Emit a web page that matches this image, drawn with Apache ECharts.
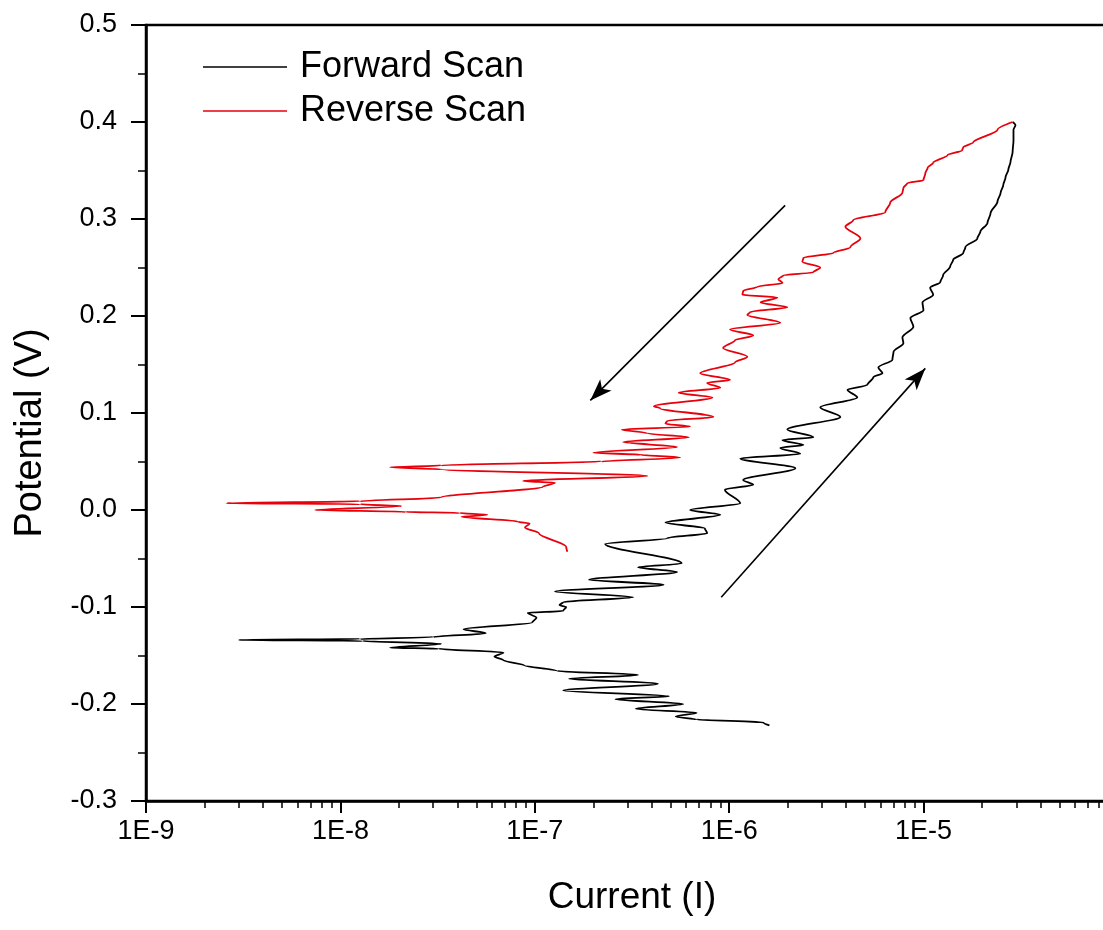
<!DOCTYPE html>
<html>
<head>
<meta charset="utf-8">
<script src="https://cdn.jsdelivr.net/npm/echarts@6/dist/echarts.min.js"></script>
<style>
  html, body { margin: 0; padding: 0; background: #fff; }
  #chart { width: 1103px; height: 930px; }
</style>
</head>
<body>
<div id="chart"></div>
<script>
// forward scan (black), in scan order
var fwdCurrent = [1.61e-6, 1.50e-6, 6.8e-7, 5.3e-7, 6.8e-7, 3.3e-7, 5.8e-7, 2.6e-7, 4.9e-7, 1.4e-7,
    4.3e-7, 1.5e-7, 3.4e-7, 1.3e-7, 8.8e-8, 6.9e-8, 6.2e-8, 6.9e-8, 3.2e-8, 1.8e-8,
    3.3e-8, 1.3e-8, 3.0e-9, 1.26e-8, 3.0e-8, 5.6e-8, 4.3e-8, 9.7e-8, 1.02e-7, 9.2e-8,
    1.40e-7, 1.45e-7, 1.34e-7, 1.40e-7, 3.2e-7, 1.27e-7, 4.6e-7, 1.9e-7, 5.4e-7, 3.4e-7,
    5.7e-7, 2.3e-7, 4.8e-7, 7.7e-7, 7.5e-7, 4.7e-7, 9.0e-7, 6.3e-7, 1.14e-6, 9.5e-7,
    1.33e-6, 1.18e-6, 2.19e-6, 1.14e-6, 2.32e-6, 1.83e-6, 2.41e-6, 1.88e-6, 2.71e-6, 1.99e-6,
    3.73e-6, 2.94e-6, 4.56e-6, 4.06e-6, 5.14e-6, 5.52e-6, 6.14e-6, 5.85e-6, 6.91e-6, 7.0e-6,
    7.87e-6, 7.78e-6, 8.86e-6, 8.55e-6, 9.98e-6, 9.87e-6, 1.12e-5, 1.08e-5, 1.22e-5, 1.26e-5,
    1.37e-5, 1.42e-5, 1.60e-5, 1.64e-5, 1.89e-5, 1.96e-5, 2.13e-5, 2.21e-5, 2.40e-5, 2.49e-5,
    2.57e-5, 2.64e-5, 2.73e-5, 2.80e-5, 2.87e-5, 2.90e-5, 2.90e-5, 2.97e-5, 2.87e-5];
var fwdPotential = [-0.222, -0.219, -0.216, -0.213, -0.209, -0.205, -0.200, -0.195, -0.192, -0.186,
    -0.179, -0.174, -0.170, -0.166, -0.160, -0.155, -0.151, -0.147, -0.143, -0.142,
    -0.138, -0.135, -0.134, -0.133, -0.131, -0.127, -0.123, -0.116, -0.111, -0.106,
    -0.104, -0.100, -0.098, -0.095, -0.090, -0.084, -0.077, -0.072, -0.064, -0.059,
    -0.055, -0.035, -0.029, -0.024, -0.019, -0.013, -0.005, 0.000, 0.007, 0.021,
    0.026, 0.031, 0.043, 0.053, 0.058, 0.064, 0.067, 0.072, 0.075, 0.083,
    0.096, 0.106, 0.116, 0.124, 0.129, 0.137, 0.141, 0.147, 0.155, 0.163,
    0.172, 0.178, 0.189, 0.198, 0.206, 0.214, 0.222, 0.229, 0.235, 0.242,
    0.251, 0.258, 0.265, 0.271, 0.280, 0.287, 0.296, 0.306, 0.318, 0.327,
    0.335, 0.343, 0.351, 0.359, 0.369, 0.381, 0.392, 0.397, 0.400];

// reverse scan (red), in scan order
var revCurrent = [2.87e-5, 2.40e-5, 1.80e-5, 1.60e-5, 1.58e-5, 1.33e-5, 1.12e-5, 1.05e-5, 1.02e-5, 9.98e-6,
    8.26e-6, 7.87e-6, 7.78e-6, 6.74e-6, 6.35e-6, 4.35e-6, 3.96e-6, 4.73e-6, 4.20e-6, 3.43e-6,
    2.41e-6, 2.38e-6, 2.94e-6, 2.71e-6, 1.90e-6, 1.79e-6, 1.88e-6, 1.39e-6, 1.18e-6, 1.17e-6,
    1.77e-6, 1.45e-6, 1.99e-6, 1.28e-6, 1.24e-6, 1.83e-6, 1.01e-6, 1.33e-6, 1.07e-6, 9.3e-7,
    1.24e-6, 1.07e-6, 7.1e-7, 1.01e-6, 7.7e-7, 9.0e-7, 5.5e-7, 8.2e-7, 4.1e-7, 4.4e-7,
    8.3e-7, 4.8e-7, 4.7e-7, 6.3e-7, 2.8e-7, 3.8e-7, 6.2e-7, 2.85e-7, 5.4e-7, 2.0e-7,
    3.5e-7, 5.6e-7, 2.2e-7, 3.3e-8, 1.8e-8, 3.3e-8, 3.8e-7, 8.7e-8, 1.27e-7, 1.10e-7,
    3.3e-8, 1.26e-8, 2.6e-9, 1.26e-8, 2.06e-8, 7.4e-9, 2.17e-8, 4.1e-8, 5.7e-8, 4.2e-8,
    8.2e-8, 9.4e-8, 8.9e-8, 1.05e-7, 1.45e-7, 1.47e-7];
var revPotential = [0.400, 0.392, 0.379, 0.374, 0.371, 0.366, 0.358, 0.353, 0.347, 0.340,
    0.337, 0.332, 0.327, 0.317, 0.307, 0.299, 0.292, 0.280, 0.271, 0.265,
    0.260, 0.256, 0.250, 0.245, 0.242, 0.238, 0.234, 0.230, 0.226, 0.222,
    0.219, 0.214, 0.209, 0.204, 0.201, 0.193, 0.186, 0.180, 0.175, 0.167,
    0.158, 0.152, 0.141, 0.134, 0.131, 0.126, 0.121, 0.116, 0.107, 0.105,
    0.096, 0.092, 0.089, 0.086, 0.083, 0.079, 0.075, 0.070, 0.065, 0.059,
    0.057, 0.054, 0.050, 0.046, 0.044, 0.042, 0.035, 0.030, 0.028, 0.024,
    0.013, 0.009, 0.007, 0.006, 0.004, 0.000, -0.002, -0.003, -0.005, -0.007,
    -0.012, -0.014, -0.018, -0.024, -0.038, -0.043];

// direction arrows: [start, end] as [current, potential]
var arrowDown = [[1.94e-6, 0.314], [1.93e-7, 0.113]];
var arrowUp = [[9.1e-7, -0.090], [1.02e-5, 0.146]];

var xTickLabels = ['1E-9', '1E-8', '1E-7', '1E-6', '1E-5', ''];

var font = "'Liberation Sans', Arial, sans-serif";

function pairs(xs, ys) {
    var out = [];
    for (var i = 0; i < xs.length; i++) {
        out.push([xs[i], ys[i]]);
    }
    return out;
}

// minor log ticks 2..9 in every decade
var minorTicks = [];
for (var e = -9; e < -4; e++) {
    for (var m = 2; m <= 9; m++) {
        minorTicks.push(m * Math.pow(10, e));
    }
}

var chart = echarts.init(document.getElementById('chart'));
chart.setOption({
    backgroundColor: '#fff',
    animation: false,
    grid: {
        left: 146,
        top: 25,
        right: -15,
        bottom: 129,
        containLabel: false,
        outerBoundsMode: 'none',
        show: true,
        borderColor: '#000',
        borderWidth: 2.5,
        backgroundColor: 'transparent'
    },
    legend: {
        orient: 'vertical',
        left: 198,
        top: 44,
        itemWidth: 84,
        itemHeight: 2,
        itemGap: 8,
        icon: 'path://M0 0H100V2H0Z',
        data: ['Forward Scan', 'Reverse Scan'],
        textStyle: {
            fontFamily: font,
            fontSize: 36,
            lineHeight: 36,
            color: '#000',
            padding: [0, 0, 0, 8]
        }
    },
    xAxis: [{
        type: 'log',
        logBase: 10,
        min: 1e-9,
        max: 1e-4,
        name: 'Current (I)',
        nameLocation: 'middle',
        nameGap: 78,
        nameTextStyle: {fontFamily: font, fontSize: 37, color: '#000'},
        axisLine: {show: true, onZero: false, lineStyle: {color: '#000', width: 2.5}},
        axisTick: {show: true, inside: false, length: 12, lineStyle: {color: '#000', width: 2}},
        axisLabel: {
            margin: 17,
            fontFamily: font,
            fontSize: 27,
            color: '#000',
            formatter: function(v) {
                var k = Math.round(Math.log(v) / Math.LN10) + 9;
                return xTickLabels[k] || '';
            }
        },
        splitLine: {show: false}
    }, {
        type: 'log',
        logBase: 10,
        min: 1e-9,
        max: 1e-4,
        position: 'bottom',
        axisLine: {show: false, onZero: false},
        axisTick: {show: true, inside: false, length: 7, customValues: minorTicks, lineStyle: {color: '#000', width: 1.5}},
        axisLabel: {show: false},
        splitLine: {show: false}
    }],
    yAxis: {
        type: 'value',
        min: -0.3,
        max: 0.5,
        interval: 0.1,
        name: 'Potential (V)',
        nameLocation: 'middle',
        nameGap: 96,
        nameTextStyle: {fontFamily: font, fontSize: 38, color: '#000', padding: [0, 40, 0, 0]},
        axisLine: {show: true, onZero: false, lineStyle: {color: '#000', width: 2.5}},
        axisTick: {show: true, inside: false, length: 15, lineStyle: {color: '#000', width: 2}},
        minorTick: {show: true, splitNumber: 2, length: 8, lineStyle: {color: '#000', width: 1.5}},
        axisLabel: {
            margin: 29,
            fontFamily: font,
            fontSize: 27,
            color: '#000',
            formatter: function(v) {
                return v.toFixed(1);
            }
        },
        splitLine: {show: false}
    },
    series: [{
        name: 'Forward Scan',
        type: 'line',
        xAxisIndex: 0,
        data: pairs(fwdCurrent, fwdPotential),
        symbol: 'none',
        smooth: 0.3,
        smoothMonotone: 'y',
        color: '#000',
        lineStyle: {color: '#000', width: 1.8},
        markLine: {
            silent: true,
            symbol: ['none', 'arrow'],
            symbolSize: [12, 22],
            label: {show: false},
            lineStyle: {color: '#000', width: 1.6, type: 'solid'},
            data: [
                [{coord: arrowDown[0]}, {coord: arrowDown[1]}],
                [{coord: arrowUp[0]}, {coord: arrowUp[1]}]
            ]
        }
    }, {
        name: 'Reverse Scan',
        type: 'line',
        xAxisIndex: 0,
        data: pairs(revCurrent, revPotential),
        symbol: 'none',
        smooth: 0.3,
        smoothMonotone: 'y',
        color: '#e8000b',
        lineStyle: {color: '#e8000b', width: 1.8}
    }]
});
</script>
</body>
</html>
